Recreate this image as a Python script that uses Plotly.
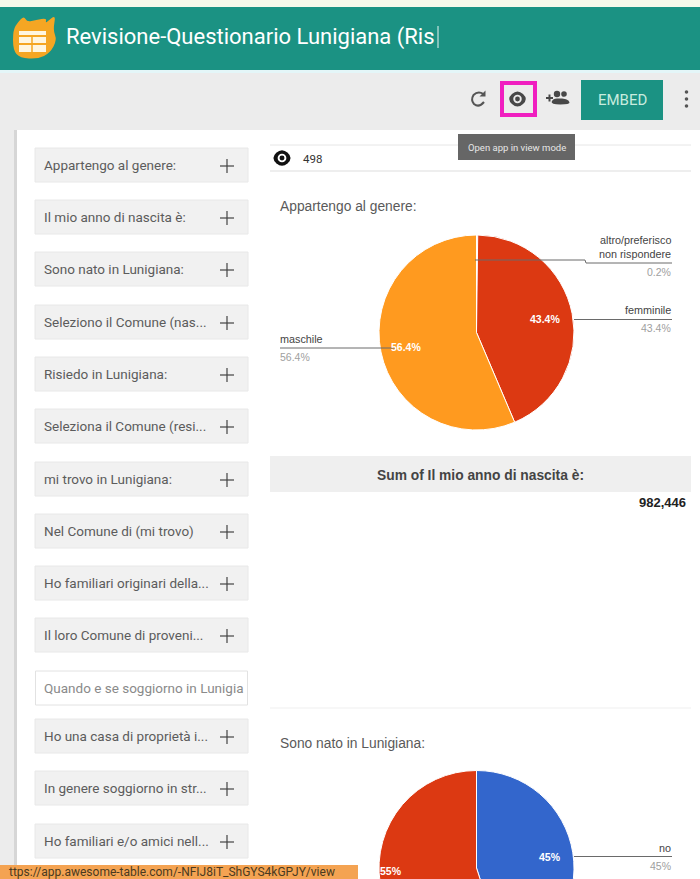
import plotly.graph_objects as go

# App dashboard page: left filter list, two Google-style pies and a sum table.
WIDTH, HEIGHT = 700, 1000   # the second pie runs past the fold, so the canvas is taller
VIEW_H = 879

app_title = "Revisione-Questionario Lunigiana (Ris"
records_count = "498"
tooltip_text = "Open app in view mode"
embed_label = "EMBED"
url_text = "ttps://app.awesome-table.com/-NFIJ8iT_ShGYS4kGPJY/view"

filter_labels = [
    "Appartengo al genere:", "Il mio anno di nascita è:", "Sono nato in Lunigiana:",
    "Seleziono il Comune (nas...", "Risiedo in Lunigiana:", "Seleziona il Comune (resi...",
    "mi trovo in Lunigiana:", "Nel Comune di (mi trovo)", "Ho familiari originari della...",
    "Il loro Comune di proveni...", "Quando e se soggiorno in Lunigia",
    "Ho una casa di proprietà i...", "In genere soggiorno in str...", "Ho familiari e/o amici nell...",
]
filter_rows = [165, 217, 269, 322, 374, 426, 479, 531, 583, 635, 688, 736, 788, 841]
text_input_index = 10

gender_title = "Appartengo al genere:"
gender_labels = ["altro/preferisco non rispondere", "femminile", "maschile"]
gender_values = [0.2, 43.4, 56.4]

born_title = "Sono nato in Lunigiana:"
born_labels = ["no", "sì"]
born_values = [45, 55]

sum_header = "Sum of Il mio anno di nascita è:"
sum_value = "982,446"

BLUE, RED, ORANGE = "#3366cc", "#dc3912", "#ff9a1f"
TEAL = "#1b9283"
FONT = "Roboto"
CHART_FONT = "Liberation Sans"
LEADER = "#6a6a6a"


def px(x):
    return x / WIDTH


def py(y):
    return 1 - y / HEIGHT


shapes = []
annotations = []


def rect(x0, y0, x1, y1, fill, line=None, lw=1):
    shapes.append(dict(type="rect", xref="paper", yref="paper",
                       x0=px(x0), x1=px(x1), y0=py(y1), y1=py(y0),
                       fillcolor=fill, layer="above",
                       line=dict(color=line or fill, width=lw if line else 0)))


def seg(x0, y0, x1, y1, color, w=1):
    shapes.append(dict(type="line", xref="paper", yref="paper",
                       x0=px(x0), x1=px(x1), y0=py(y0), y1=py(y1), layer="above",
                       line=dict(color=color, width=w)))


def blob(points, fill, smooth=True):
    # closed outline from page pixels; smooth=True rounds it with quadratic joins
    pts = [(px(a), py(b)) for a, b in points]
    if smooth:
        d = f"M{(pts[0][0]+pts[-1][0])/2},{(pts[0][1]+pts[-1][1])/2}"
        for i, p in enumerate(pts):
            q = pts[(i + 1) % len(pts)]
            d += f" Q{p[0]},{p[1]} {(p[0]+q[0])/2},{(p[1]+q[1])/2}"
        d += " Z"
    else:
        d = "M" + " L".join(f"{a},{b}" for a, b in pts) + " Z"
    shapes.append(dict(type="path", xref="paper", yref="paper", path=d,
                       fillcolor=fill, layer="above", line=dict(width=0)))


def circle(cx, cy, r, fill):
    shapes.append(dict(type="circle", xref="paper", yref="paper",
                       x0=px(cx - r), x1=px(cx + r), y0=py(cy + r), y1=py(cy - r),
                       fillcolor=fill, layer="above", line=dict(width=0)))


def label(x, y, text, size=10, color="#555555", anchor="left", bold=False, family=FONT):
    # annotations carry a little padding; nudge so x is the glyph edge
    nudge = {"left": -2, "right": 2, "center": 0}[anchor]
    annotations.append(dict(xref="paper", yref="paper", x=px(x + nudge), y=py(y),
                            text=f"<b>{text}</b>" if bold else text,
                            showarrow=False, xanchor=anchor, yanchor="middle",
                            font=dict(family=family, size=size, color=color)))


def eye(cx, cy, scale, color, back):
    blob([(cx - 12 * scale, cy), (cx, cy - 11 * scale), (cx + 12 * scale, cy), (cx, cy + 11 * scale)], color)
    circle(cx, cy, 4.6 * scale, back)
    circle(cx, cy, 2.6 * scale, color)


# page frame (the white card is the paper itself)
rect(0, 0, 700, 7, "#f6f8ea")
rect(0, 7, 700, 70, TEAL)
rect(0, 70, 700, 73, "#e4f6f8")
rect(0, 73, 700, 130, "#ececec")
rect(0, 130, 17, VIEW_H, "#ececec")
rect(14, 130, 17, VIEW_H, "#d6d6d6")

# logo: flame behind a small table
blob([(13, 30), (18, 22), (24, 16), (27, 22), (36, 20), (47, 18), (45, 24), (56, 14), (53, 30), (57, 40), (50, 53), (38, 59), (20, 58), (13, 50)], "#f5a623")
rect(19, 31, 46, 35, "#fff6e0")
rect(19, 37, 46, 43, "#fff6e0")
rect(19, 45, 46, 52, "#fff6e0")
seg(32, 37, 32, 52, "#f5a623", 1.5)

label(66, 37, app_title, 22, "#ffffff")
seg(438, 26, 438, 48, "#e8f4f2", 1)

# toolbar icons
shapes.append(dict(type="path", xref="paper", yref="paper", layer="above",
                   line=dict(color="#555555", width=2),
                   path=f"M{px(483.5)},{py(94)} Q{px(478)},{py(90.5)} {px(473.5)},{py(95)} "
                        f"Q{px(470.5)},{py(100)} {px(474)},{py(104)} Q{px(479)},{py(108)} {px(484)},{py(102)}"))
blob([(479.5, 96.5), (485.5, 96.5), (485.5, 90.5)], "#555555", smooth=False)
rect(502, 83, 535, 115, "rgba(0,0,0,0)", "#f01fc0", 4)
eye(517.5, 99, 0.92, "#484848", "#ececec")
seg(546, 98, 553, 98, "#484848", 2)
seg(549.5, 94.5, 549.5, 101.5, "#484848", 2)
circle(557, 94, 3.2, "#484848")
circle(564, 94, 2.8, "#484848")
blob([(550.5, 104.5), (553, 98.5), (561, 98.5), (563, 98.5), (569, 100), (570, 104.5)], "#484848")
rect(581, 80, 663, 120, TEAL)
label(622, 100, embed_label, 15, "#c8ecdf", "center")
for dy in (92, 99, 106):
    circle(686.5, dy, 1.8, "#555555")

# counter row
seg(270, 145, 691, 145, "#e6e6e6")
seg(270, 171, 691, 171, "#dddddd")
eye(282, 158, 0.95, "#111111", "#ffffff")
label(303, 159, records_count, 11.5, "#333333")

# filter column
for i, (name, row) in enumerate(zip(filter_labels, filter_rows)):
    if i == text_input_index:
        rect(35.5, row - 17, 247.5, row + 17, "#ffffff", "#e2e2e2")
        label(44, row, name, 13.5, "#8a8a8a")
    else:
        rect(35, row - 17, 248, row + 17, "#f1f1f1", "#e8e8e8")
        label(44, row, name, 13.5, "#5c5c5c")
        seg(220, row + 1, 234, row + 1, "#444444", 1.2)
        seg(227, row - 6, 227, row + 8, "#444444", 1.2)

# sum table
rect(270, 456, 691, 492, "#efefef")
label(480.5, 475, sum_header, 13.8, "#444444", "center", bold=True, family=CHART_FONT)
label(686, 502, sum_value, 13, "#222222", "right", bold=True, family=CHART_FONT)
seg(270, 708, 691, 708, "#efefef")

# first pie callouts
label(280, 207, gender_title, 13.8, "#5a5a5a", family=CHART_FONT)
label(671, 240, "altro/preferisco", 10.8, "#444444", "right", family=CHART_FONT)
label(671, 254, "non rispondere", 10.8, "#444444", "right", family=CHART_FONT)
label(671, 272, f"{gender_values[0]}%", 10.5, "#a0a0a0", "right", family=CHART_FONT)
seg(475, 260, 585, 260, LEADER)
seg(585, 260, 586, 263, LEADER)
seg(586, 263, 672, 263, LEADER)
label(671, 310, gender_labels[1], 10.8, "#444444", "right", family=CHART_FONT)
label(671, 328, f"{gender_values[1]}%", 10.5, "#a0a0a0", "right", family=CHART_FONT)
seg(574, 319.5, 672, 319.5, LEADER)
label(280, 339, gender_labels[2], 10.8, "#444444", family=CHART_FONT)
label(280, 357, f"{gender_values[2]}%", 10.5, "#a0a0a0", family=CHART_FONT)
seg(280, 348, 395, 348, LEADER)
label(545, 319, f"{gender_values[1]}%", 10.5, "#ffffff", "center", bold=True, family=CHART_FONT)
label(406, 347, f"{gender_values[2]}%", 10.5, "#ffffff", "center", bold=True, family=CHART_FONT)

# second pie callouts
label(280, 743, born_title, 13.8, "#5a5a5a", family=CHART_FONT)
label(671, 848, born_labels[0], 10.8, "#444444", "right", family=CHART_FONT)
label(671, 866, f"{born_values[0]}%", 10.5, "#a0a0a0", "right", family=CHART_FONT)
seg(574, 856.5, 672, 856.5, LEADER)
label(550, 857, f"{born_values[0]}%", 10.5, "#ffffff", "center", bold=True, family=CHART_FONT)
label(391, 871, f"{born_values[1]}%", 10.5, "#ffffff", "center", bold=True, family=CHART_FONT)

# tooltip and status URL sit on top of everything
rect(458, 134, 575, 160, "#666666")
label(516.5, 147, tooltip_text, 9.5, "#e6e6e6", "center")
rect(0, 865, 358, VIEW_H, "#f4a352")
label(9, 871.5, url_text, 12, "#4a3a20")


def pie(labels, values, colors, cx, cy, r):
    return go.Pie(labels=labels, values=values, sort=False, direction="clockwise", rotation=0,
                  textinfo="none", showlegend=False, hoverinfo="label+percent",
                  marker=dict(colors=colors, line=dict(color="#ffffff", width=1)),
                  domain=dict(x=[px(cx - r), px(cx + r)], y=[py(cy + r), py(cy - r)]))


fig = go.Figure([
    pie(gender_labels, gender_values, [BLUE, RED, ORANGE], 476.5, 332.5, 97.5),
    pie(born_labels, born_values, [BLUE, RED], 476.5, 868, 97.5),
])
fig.update_layout(width=WIDTH, height=HEIGHT, margin=dict(l=0, r=0, t=0, b=0),
                  paper_bgcolor="#ffffff", plot_bgcolor="#ffffff",
                  font=dict(family=FONT), shapes=shapes, annotations=annotations)

# keep the page to one window height; the lower pie is cut by the fold
fold = f"document.documentElement.style.overflow='hidden';document.body.style.overflow='hidden';document.body.style.height='{VIEW_H}px';"
fig.write_html("out.html", config=dict(displayModeBar=False), post_script=fold)
